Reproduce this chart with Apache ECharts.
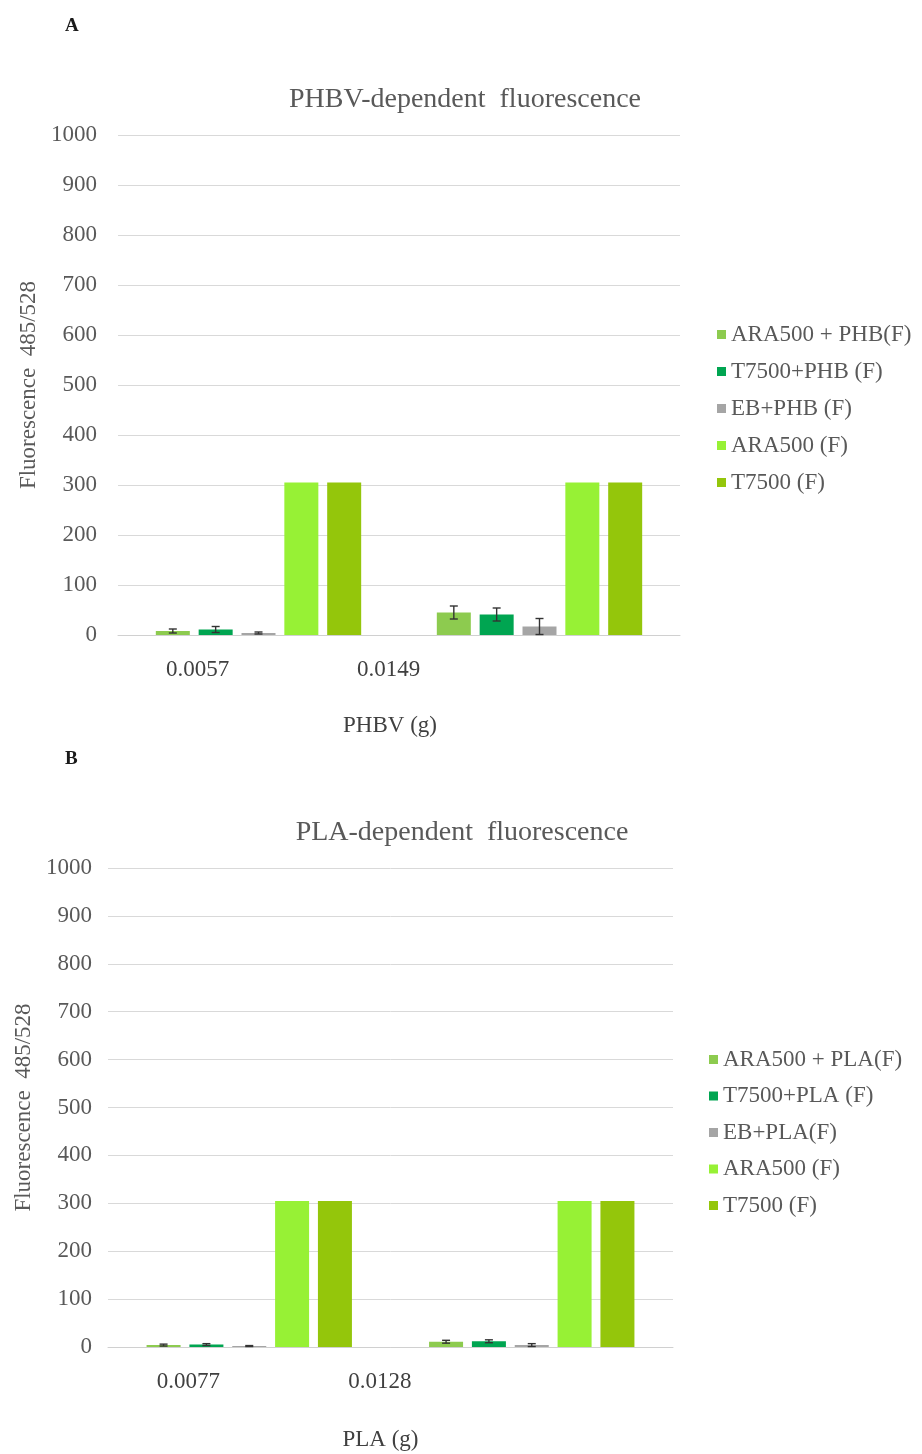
<!DOCTYPE html>
<html>
<head>
<meta charset="utf-8">
<title>Polymer-dependent fluorescence</title>
<script src="https://cdn.jsdelivr.net/npm/echarts@6/dist/echarts.min.js"></script>
<style>
  html, body { margin: 0; padding: 0; background: #ffffff; }
  #chart { width: 922px; height: 1454px; }
</style>
</head>
<body>
<div id="chart"></div>
<script>
// ---- Panel A: PHBV ----
const phbvCategories = ['0.0057', '0.0149'];
const phbvSeriesNames = ['ARA500 + PHB(F)', 'T7500+PHB (F)', 'EB+PHB (F)', 'ARA500 (F)', 'T7500 (F)'];
const ara500Phb = [8, 45];
const ara500PhbErr = [4, 13];
const t7500Phb = [11, 41];
const t7500PhbErr = [6, 13];
const ebPhb = [4, 17];
const ebPhbErr = [2, 16];
const ara500OnlyA = [305, 305];
const t7500OnlyA = [305, 305];

// ---- Panel B: PLA ----
const plaCategories = ['0.0077', '0.0128'];
const plaSeriesNames = ['ARA500 + PLA(F)', 'T7500+PLA (F)', 'EB+PLA(F)', 'ARA500 (F)', 'T7500 (F)'];
const ara500Pla = [4, 11];
const ara500PlaErr = [2, 3];
const t7500Pla = [5, 12];
const t7500PlaErr = [2, 3];
const ebPla = [2, 4];
const ebPlaErr = [1, 3];
const ara500OnlyB = [305, 305];
const t7500OnlyB = [305, 305];

const yTicks = [0, 100, 200, 300, 400, 500, 600, 700, 800, 900, 1000];

const colors = ['#8dcb4f', '#00a551', '#a5a5a5', '#97f135', '#94c60b'];
const FONT = 'Liberation Serif';
const TEXT = '#595959';
const FS = 23;
const BAR_W = 34;
const BAR_GAP = 0.26;

function barSeries(name, data, idx, colorIdx) {
  return {
    type: 'bar', name: name, data: data,
    xAxisIndex: idx, yAxisIndex: idx,
    barWidth: BAR_W, barGap: (BAR_GAP * 100) + '%',
    itemStyle: { color: colors[colorIdx] },
    emphasis: { disabled: true }
  };
}

// Error whiskers placed over bar "slot" (0..4) of a five-bar group
function errorSeries(values, errors, slot, idx) {
  return {
    type: 'custom', xAxisIndex: idx, yAxisIndex: idx, z: 5,
    silent: true,
    data: values.map((v, i) => [i, v, errors[i]]),
    renderItem: function (params, api) {
      const cat = api.value(0), val = api.value(1), err = api.value(2);
      const base = api.coord([cat, val]);
      const step = BAR_W * (1 + BAR_GAP);
      const x = base[0] + (slot - 2) * step;
      const hi = api.coord([cat, val + err])[1];
      const lo = api.coord([cat, Math.max(0, val - err)])[1];
      const cap = 4;
      const st = { stroke: '#333333', lineWidth: 1.4 };
      return {
        type: 'group',
        children: [
          { type: 'line', shape: { x1: x, y1: hi, x2: x, y2: lo }, style: st },
          { type: 'line', shape: { x1: x - cap, y1: hi, x2: x + cap, y2: hi }, style: st },
          { type: 'line', shape: { x1: x - cap, y1: lo, x2: x + cap, y2: lo }, style: st }
        ]
      };
    }
  };
}

function categoryLabel(shifts) {
  const rich = {};
  shifts.forEach((s, i) => {
    rich['c' + i] = { fontFamily: FONT, fontSize: FS, color: '#404040', padding: [0, s, 0, 0] };
  });
  return {
    interval: 0,
    margin: 23,
    formatter: function (value, index) { return '{c' + index + '|' + value + '}'; },
    rich: rich
  };
}

const yAxisBase = (margin, nameGap) => ({
  type: 'value', min: 0, max: yTicks[yTicks.length - 1], interval: yTicks[1] - yTicks[0],
  name: 'Fluorescence  485/528', nameLocation: 'middle', nameGap: nameGap,
  nameTextStyle: { fontFamily: FONT, fontSize: FS, color: TEXT },
  axisLine: { show: false }, axisTick: { show: false },
  axisLabel: { fontFamily: FONT, fontSize: FS, color: TEXT, margin: margin,
    formatter: function (v) { return String(v); } },
  splitLine: { lineStyle: { color: '#d9d9d9', width: 1 } }
});

const option = {
  animation: false,
  backgroundColor: '#ffffff',
  title: [
    { text: 'A', left: 60, top: 12, textStyle: { fontFamily: FONT, fontSize: 19, fontWeight: 'bold', color: '#1a1a1a' } },
    { text: 'PHBV-dependent  fluorescence', left: 460, top: 81, textAlign: 'center',
      textStyle: { fontFamily: FONT, fontSize: 28, fontWeight: 'normal', color: TEXT } },
    { text: 'B', left: 60, top: 745, textStyle: { fontFamily: FONT, fontSize: 19, fontWeight: 'bold', color: '#1a1a1a' } },
    { text: 'PLA-dependent  fluorescence', left: 457, top: 814, textAlign: 'center',
      textStyle: { fontFamily: FONT, fontSize: 28, fontWeight: 'normal', color: TEXT } }
  ],
  legend: [
    { data: phbvSeriesNames, orient: 'vertical', left: 712, top: 318, itemGap: 14,
      itemWidth: 9, itemHeight: 9, icon: 'rect',
      textStyle: { fontFamily: FONT, fontSize: FS, color: TEXT } },
    { data: plaSeriesNames, orient: 'vertical', left: 704, top: 1043, itemGap: 13.5,
      itemWidth: 9, itemHeight: 9, icon: 'rect',
      textStyle: { fontFamily: FONT, fontSize: FS, color: TEXT } }
  ],
  grid: [
    { left: 118, right: 242, top: 135, height: 500 },
    { left: 108, right: 249, top: 868, height: 479 }
  ],
  xAxis: [
    { type: 'category', gridIndex: 0, data: phbvCategories,
      name: 'PHBV (g)', nameLocation: 'middle', nameGap: 79,
      nameTextStyle: { fontFamily: FONT, fontSize: FS, color: '#404040', padding: [0, 18, 0, 0] },
      axisLine: { show: true, lineStyle: { color: '#d0d0d0' } }, axisTick: { show: false },
      axisLabel: categoryLabel([122, 302]) },
    { type: 'category', gridIndex: 1, data: plaCategories,
      name: 'PLA (g)', nameLocation: 'middle', nameGap: 81,
      nameTextStyle: { fontFamily: FONT, fontSize: FS, color: '#404040', padding: [0, 20, 0, 0] },
      axisLine: { show: true, lineStyle: { color: '#d0d0d0' } }, axisTick: { show: false },
      axisLabel: categoryLabel([122, 304]) }
  ],
  yAxis: [
    Object.assign(yAxisBase(21, 70), { gridIndex: 0 }),
    Object.assign(yAxisBase(16, 70), { gridIndex: 1 })
  ],
  series: [
    barSeries(phbvSeriesNames[0], ara500Phb, 0, 0),
    barSeries(phbvSeriesNames[1], t7500Phb, 0, 1),
    barSeries(phbvSeriesNames[2], ebPhb, 0, 2),
    barSeries(phbvSeriesNames[3], ara500OnlyA, 0, 3),
    barSeries(phbvSeriesNames[4], t7500OnlyA, 0, 4),
    errorSeries(ara500Phb, ara500PhbErr, 0, 0),
    errorSeries(t7500Phb, t7500PhbErr, 1, 0),
    errorSeries(ebPhb, ebPhbErr, 2, 0),

    barSeries(plaSeriesNames[0], ara500Pla, 1, 0),
    barSeries(plaSeriesNames[1], t7500Pla, 1, 1),
    barSeries(plaSeriesNames[2], ebPla, 1, 2),
    barSeries(plaSeriesNames[3], ara500OnlyB, 1, 3),
    barSeries(plaSeriesNames[4], t7500OnlyB, 1, 4),
    errorSeries(ara500Pla, ara500PlaErr, 0, 1),
    errorSeries(t7500Pla, t7500PlaErr, 1, 1),
    errorSeries(ebPla, ebPlaErr, 2, 1)
  ]
};

const chart = echarts.init(document.getElementById('chart'), null, { renderer: 'canvas' });
chart.setOption(option);
</script>
</body>
</html>
